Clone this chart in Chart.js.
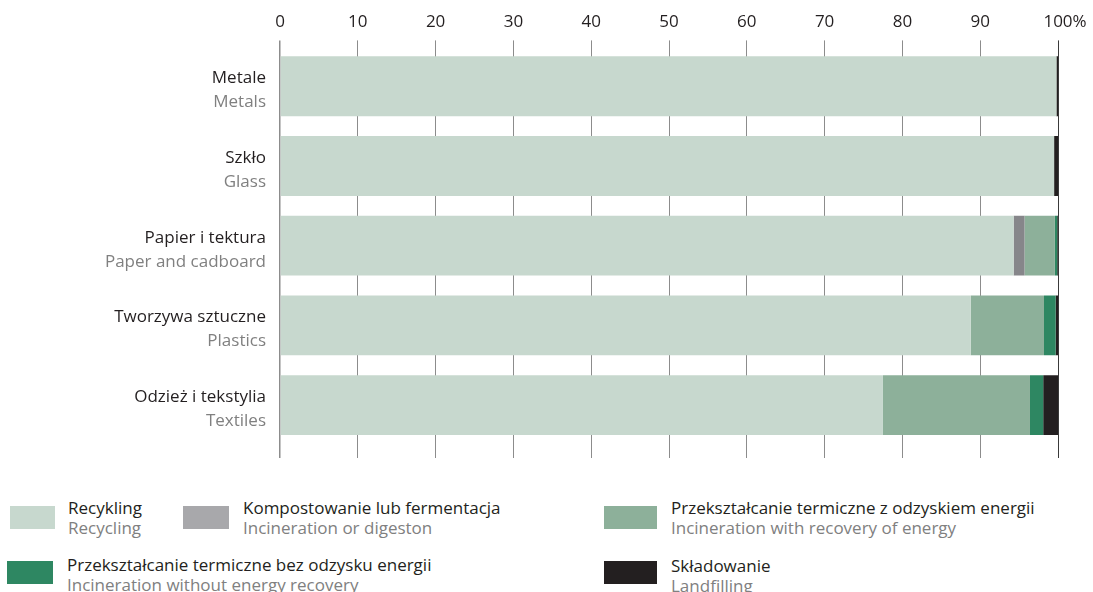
<!DOCTYPE html>
<html>
<head>
<meta charset="utf-8">
<script src="https://cdn.jsdelivr.net/npm/chart.js@4"></script>
<style>
  html, body { margin: 0; padding: 0; background: #fff; }
  #wrap { position: relative; width: 1093px; height: 592px; overflow: hidden; font-family: "Open Sans", sans-serif; }
  #chart { position: absolute; left: 0; top: 0; }
  .lg-box { position: absolute; height: 23px; }
  .lg-text { position: absolute; font-size: 17px; line-height: 20px; white-space: nowrap; }
  .lg-text .pl { color: #231f20; }
  .lg-text .en { color: #808080; }
</style>
</head>
<body>
<div id="wrap">
  <canvas id="chart" width="1093" height="470"></canvas>
  <div id="legend"></div>
</div>
<script>
const categoriesPl = ['Metale', 'Szkło', 'Papier i tektura', 'Tworzywa sztuczne', 'Odzież i tekstylia'];
const categoriesEn = ['Metals', 'Glass', 'Paper and cadboard', 'Plastics', 'Textiles'];

const seriesPl = ['Recykling', 'Kompostowanie lub fermentacja', 'Przekształcanie termiczne z odzyskiem energii',
  'Przekształcanie termiczne bez odzysku energii', 'Składowanie'];
const seriesEn = ['Recycling', 'Incineration or digeston', 'Incineration with recovery of energy',
  'Incineration without energy recovery', 'Landfilling'];

// shares in %, per category
const recycling = [99.8, 99.5, 94.3, 88.8, 77.5];
const composting = [0, 0, 1.4, 0, 0];
const incinerationRecovery = [0, 0, 3.9, 9.4, 18.9];
const incinerationNoRecovery = [0, 0, 0.3, 1.5, 1.7];
const landfilling = [0.2, 0.5, 0.1, 0.3, 1.9];

const xTicks = [0, 10, 20, 30, 40, 50, 60, 70, 80, 90, 100];

const seriesColors = ['#c7d8ce', '#86868a', '#8db09a', '#2e8762', '#231f20'];
const legendColors = ['#c7d8ce', '#a8a8ab', '#8db09a', '#2e8762', '#231f20'];

// legend placement (box + text block)
const legendLayout = [
  { bx: 10, by: 506, bw: 45, tx: 68, ty: 498 },
  { bx: 183, by: 506, bw: 46, tx: 243, ty: 498 },
  { bx: 604, by: 506, bw: 53, tx: 671, ty: 498 },
  { bx: 7, by: 561, bw: 46, tx: 67, ty: 555 },
  { bx: 604, by: 561, bw: 53, tx: 671, ty: 556 }
];

const FONT = '"Open Sans", sans-serif';
const TICK_PAD = 8;
const gridColor = v => v === 100 ? '#3a3a3a' : '#8c8c8c';

function useTicks(scale) {
  scale.ticks = xTicks.map(v => ({ value: v }));
}

const labelPlugin = {
  id: 'twoLineLabels',
  afterDraw(chart) {
    const { ctx, chartArea, scales } = chart;
    const y = scales.y;
    ctx.save();
    ctx.font = `17px ${FONT}`;
    ctx.textAlign = 'right';
    ctx.textBaseline = 'alphabetic';
    categoriesPl.forEach((name, i) => {
      const yc = y.getPixelForValue(i);
      ctx.fillStyle = '#231f20';
      ctx.fillText(name, chartArea.left - 14, yc - 3);
      ctx.fillStyle = '#808080';
      ctx.fillText(categoriesEn[i], chartArea.left - 14, yc + 21);
    });
    // '%' hangs after the last tick label
    const x = scales.x;
    const px = x.getPixelForValue(100);
    const ly = x.bottom - 6 - TICK_PAD - 17 * 1.2 / 2;
    ctx.textAlign = 'left';
    ctx.textBaseline = 'middle';
    ctx.fillStyle = '#231f20';
    ctx.fillText('%', px + ctx.measureText('100').width / 2, ly);
    ctx.restore();
  }
};

const datasetsData = [recycling, composting, incinerationRecovery, incinerationNoRecovery, landfilling];

new Chart(document.getElementById('chart'), {
  type: 'bar',
  data: {
    labels: categoriesPl,
    datasets: datasetsData.map((d, i) => ({
      label: seriesEn[i],
      data: d,
      backgroundColor: seriesColors[i],
      borderWidth: 0,
      barPercentage: 0.75,
      categoryPercentage: 1
    }))
  },
  options: {
    indexAxis: 'y',
    responsive: false,
    devicePixelRatio: 1,
    animation: false,
    layout: { padding: { left: 280, right: 35, top: 4, bottom: 12 } },
    plugins: { legend: { display: false }, tooltip: { enabled: false } },
    scales: {
      x: {
        position: 'top',
        stacked: true,
        min: 0, max: 100,
        afterBuildTicks: useTicks,
        border: { display: false },
        grid: {
          color: c => gridColor(c.tick && c.tick.value),
          lineWidth: c => (c.tick && c.tick.value === 0) ? 1.5 : 1,
          tickLength: 6
        },
        ticks: {
          padding: TICK_PAD,
          color: '#231f20',
          font: { family: FONT, size: 17, lineHeight: 1.2 },
          callback: v => String(v)
        }
      },
      x2: {
        position: 'bottom',
        type: 'linear',
        min: 0, max: 100,
        afterBuildTicks: useTicks,
        border: { display: false },
        grid: {
          drawOnChartArea: false,
          drawTicks: true,
          tickLength: 13,
          color: c => gridColor(c.tick && c.tick.value),
          lineWidth: c => (c.tick && c.tick.value === 0) ? 1.5 : 1
        },
        ticks: { display: false }
      },
      y: {
        stacked: true,
        display: false
      }
    }
  },
  plugins: [labelPlugin]
});

const legendEl = document.getElementById('legend');
legendEl.innerHTML = seriesPl.map((name, i) => {
  const p = legendLayout[i];
  return `
    <div class="lg-box" style="left:${p.bx}px;top:${p.by}px;width:${p.bw}px;background:${legendColors[i]};"></div>
    <div class="lg-text" style="left:${p.tx}px;top:${p.ty}px;">
      <div class="pl">${name}</div>
      <div class="en">${seriesEn[i]}</div>
    </div>`;
}).join('');
</script>
</body>
</html>
